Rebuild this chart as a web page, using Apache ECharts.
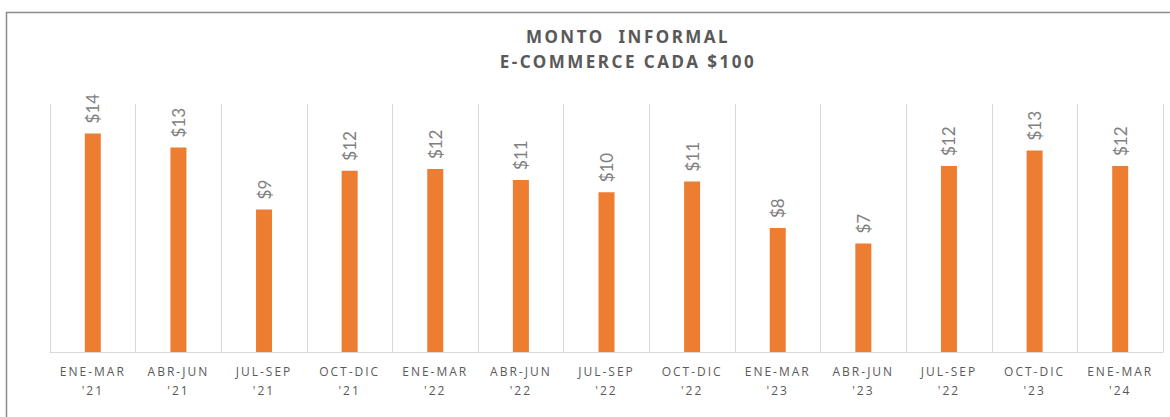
<!DOCTYPE html>
<html>
<head>
<meta charset="utf-8">
<script src="https://cdn.jsdelivr.net/npm/echarts@6/dist/echarts.min.js"></script>
<style>
  html, body { margin: 0; padding: 0; background: #fff; }
  #chart { width: 1170px; height: 417px; }
  /* Excel-like letter spacing for the axis labels and title */
  #chart text[style*="Open Sans"] { letter-spacing: 2px; }
  #chart text[style*="Noto Sans"] { letter-spacing: 2.5px; }
</style>
</head>
<body>
<div id="chart"></div>
<script>
// periodos (trimestres)
var periodos = ["ENE-MAR", "ABR-JUN", "JUL-SEP", "OCT-DIC", "ENE-MAR", "ABR-JUN", "JUL-SEP",
  "OCT-DIC", "ENE-MAR", "ABR-JUN", "JUL-SEP", "OCT-DIC", "ENE-MAR"];
var anios = ["'21", "'21", "'21", "'21", "'22", "'22", "'22", "'22", "'23", "'23", "'22", "'23", "'24"];
// monto informal cada $100
var montos = [14.1, 13.2, 9.2, 11.7, 11.8, 11.1, 10.3, 11.0, 8.0, 7.0, 12.0, 13.0, 12.0];

var categorias = periodos.map(function (p, i) { return p + "\n" + anios[i]; });

var myChart = echarts.init(document.getElementById("chart"), null, { renderer: "svg" });
myChart.setOption({
  animation: false,
  title: {
    text: "MONTO  INFORMAL\nE-COMMERCE CADA $100",
    left: 623,
    top: 19,
    textAlign: "center",
    textStyle: {
      fontFamily: "Noto Sans",
      fontSize: 17,
      fontWeight: "bold",
      color: "#595959",
      lineHeight: 25
    }
  },
  graphic: [
    {
      type: "rect",
      shape: { x: 6.5, y: 12.5, width: 1200, height: 500 },
      style: { fill: "none", stroke: "#8c8c8c", lineWidth: 1.5 },
      silent: true
    }
  ],
  grid: { left: 50, right: 7, top: 104, bottom: 65 },
  xAxis: {
    type: "category",
    data: categorias,
    axisTick: { show: false },
    axisLine: { lineStyle: { color: "#d9d9d9", width: 1 } },
    splitLine: { show: true, lineStyle: { color: "#d9d9d9", width: 1 } },
    axisLabel: {
      interval: 0,
      margin: 10,
      color: "#595959",
      fontFamily: "Open Sans",
      fontSize: 12,
      lineHeight: 19
    }
  },
  yAxis: {
    type: "value",
    min: 0,
    max: 16,
    show: false,
    splitLine: { show: false }
  },
  series: [
    {
      type: "bar",
      data: montos,
      barWidth: 16,
      itemStyle: { color: "#ed7d31" },
      label: {
        show: true,
        position: "top",
        rotate: 90,
        align: "left",
        verticalAlign: "middle",
        distance: 10,
        color: "#7f7f7f",
        fontFamily: "Lato",
        fontSize: 17,
        formatter: function (p) { return "$" + Math.round(p.value); }
      }
    }
  ]
});
</script>
</body>
</html>
